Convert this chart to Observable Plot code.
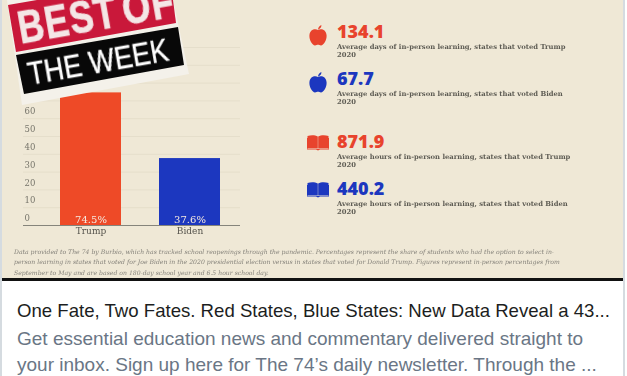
<!DOCTYPE html>
<html><head><meta charset="utf-8">
<script src="https://cdn.jsdelivr.net/npm/d3@7"></script>
<script src="https://cdn.jsdelivr.net/npm/@observablehq/plot@0.6"></script>
<style>
html,body{margin:0;padding:0;background:#fff;width:627px;height:376px;overflow:hidden}
#page{position:relative;width:627px;height:376px;overflow:hidden}
#cream{position:absolute;left:2px;top:0;width:621px;height:278px;background:#efe8d6;}
#rule{position:absolute;left:2px;top:278px;width:621px;height:3px;background:#111}
#edgeL{position:absolute;left:0;top:0;width:2px;height:376px;background:#d5dbe0}
#edgeR{position:absolute;left:623px;top:0;width:2px;height:376px;background:#d5dbe0}
#chart{position:absolute;left:0;top:0;filter:blur(.35px)}
.poly{position:absolute;left:0;top:0;width:627px;height:120px}
.badge{position:absolute;color:#fff;white-space:nowrap;transform-origin:0 50%;font-family:"Liberation Sans",sans-serif;filter:blur(.3px)}
.num{position:absolute;left:337px;font:800 18px/18px "Open Sans",sans-serif;white-space:nowrap}
.desc{position:absolute;left:337px;width:235px;font:700 6.8px/8.4px "DejaVu Serif",serif;color:#5e5c54;filter:blur(.35px)}
.note{position:absolute;left:14px;white-space:nowrap;font:italic 6.14px/10.5px "DejaVu Serif",serif;color:#85827a;filter:blur(.3px)}
.icon{position:absolute}
#title{position:absolute;left:17px;top:300px;font:18.6px/21px "Liberation Sans",sans-serif;color:#1c1e21;white-space:nowrap}
#sub{position:absolute;left:17px;top:326px;font:19px/25.500px "Liberation Sans",sans-serif;color:#6a7685;white-space:nowrap}
</style></head>
<body><div id="page">
<div id="cream"></div><div id="rule"></div><div id="edgeL"></div><div id="edgeR"></div>
<div id="chart"></div>
<div id="over"></div>
</div>
<script>
const candidates = ["Trump", "Biden"];
const shares = [74.5, 37.6];
const barColors = ["#ee4a27", "#1c37bf"];
const yTicks = [0, 10, 20, 30, 40, 50, 60, 70, 80, 90, 100];
const statValues = ["134.1", "67.7", "871.9", "440.2"];
const statColors = ["#e8432d", "#1c37bf", "#e8432d", "#1c37bf"];
const statTexts = [
  "Average days of in-person learning, states that voted Trump 2020",
  "Average days of in-person learning, states that voted Biden 2020",
  "Average hours of in-person learning, states that voted Trump 2020",
  "Average hours of in-person learning, states that voted Biden 2020"
];
const statIcons = ["apple", "apple", "book", "book"];
const statTops = [22, 69, 132, 179];
const noteLines = [
  "Data provided to The 74 by Burbio, which has tracked school reopenings through the pandemic. Percentages represent the share of students who had the option to select in-",
  "person learning in states that voted for Joe Biden in the 2020 presidential election versus in states that voted for Donald Trump. Figures represent in-person percentages from",
  "September to May and are based on 180-day school year and 6.5 hour school day."
];
const headline = "One Fate, Two Fates. Red States, Blue States: New Data Reveal a 43...";
const blurb = ["Get essential education news and commentary delivered straight to", "your inbox. Sign up here for The 74\u2019s daily newsletter. Through the ..."];

const rows = candidates.map((c, i) => ({c, v: shares[i], col: barColors[i]}));
const serif = '"DejaVu Serif",serif';
const plot = Plot.plot({
  width: 627, height: 376,
  marginLeft: 23, marginRight: 387, marginTop: 47, marginBottom: 151,
  style: {background: "transparent", fontFamily: serif},
  x: {domain: candidates, paddingInner: .38, paddingOuter: .28, align: .66, label: null},
  y: {domain: [0, 100], label: null},
  marks: [
    Plot.ruleY(yTicks, {stroke: "#e5decb", strokeWidth: 1}),
    Plot.barY(rows, {x: "c", y: "v", fill: "col"}),
    Plot.ruleY([0], {stroke: "#85847b", strokeWidth: 1}),
    Plot.text(rows, {x: "c", y: 0, text: d => d.v.toFixed(1) + "%", dy: -6, fill: "#f5e9df", fontSize: 10}),
    Plot.axisX({tickSize: 0, tickPadding: 2, fontSize: 9, color: "#55534c", label: null}),
    Plot.axisY({ticks: yTicks, tickSize: 0, textAnchor: "start", tickPadding: 0, dx: 1, dy: -7, fontSize: 8.5, color: "#77756b", label: null, tickFormat: d => d})
  ]
});
document.getElementById("chart").append(plot);

const appleP = "M9 5C7 3.6 1 3.4 .4 10.5 .1 15 3.5 20.5 6 20.5c1.3 0 2-.7 3-.7s1.700.7 3 .7c2.500 0 5.900-5.500 5.600-10C17 3.400 11 3.600 9 5ZM9 4.500C9.200 2.500 10.500.8 12.400 0c.2 2-1 4-3.400 4.500Z";
const bookP = "M.5 1C4 0 8 0 10.800 1.500V13.500H.5ZM11.200 1.500C14 0 18 0 21.500 1V13.500H11.200ZM0 3V14.500H9L11 15.500 13 14.500H22V3H21.500V14H.5V3Z";
const over = document.getElementById("over");
let html = `<svg class="poly" style="filter:blur(.3px)" viewBox="0 0 627 120">
<polygon points="7,0 173,0 189,74 22,105" fill="#f4f1ea"/>
<polygon points="8,5 170,-23 176,23 16,52" fill="#c9183a"/>
<polygon points="16,55 178,27 184,65 24,94" fill="#080808"/>
</svg>
<div class="badge" style="left:18px;top:17px;font-size:46px;line-height:22px;font-weight:700;color:#f4e6e6;-webkit-text-stroke:.7px #f4e6e6;transform:rotate(-10deg) scaleX(.78);letter-spacing:1.5px;word-spacing:-7px">BEST OF</div>
<div class="badge" style="left:28px;top:62.500px;font-size:32px;line-height:22px;-webkit-text-stroke:.4px #fff;transform:rotate(-10deg) scaleX(.85)">THE WEEK</div>`;
statValues.forEach((v, i) => {
  const t = statTops[i], c = statColors[i];
  html += `<div class="num" style="top:${t}px;color:${c}">${v}</div>`;
  html += `<div class="desc" style="top:${t + 21}px">${statTexts[i]}</div>`;
  html += statIcons[i] === "apple"
    ? `<svg class="icon" style="left:309px;top:${t + 3}px" width="18" height="21" viewBox="0 0 18 21"><path d="${appleP}" fill="${c}"/></svg>`
    : `<svg class="icon" style="left:307px;top:${t + 3}px" width="22" height="16" viewBox="0 0 22 16"><path d="${bookP}" fill="${c}"/></svg>`;
});
noteLines.forEach((l, i) => { html += `<div class="note" style="top:${246.500 + i * 10.500}px">${l}</div>`; });
html += `<div id="title">${headline}</div><div id="sub">${blurb.join("<br>")}</div>`;
over.innerHTML = html;
</script>
</body></html>
